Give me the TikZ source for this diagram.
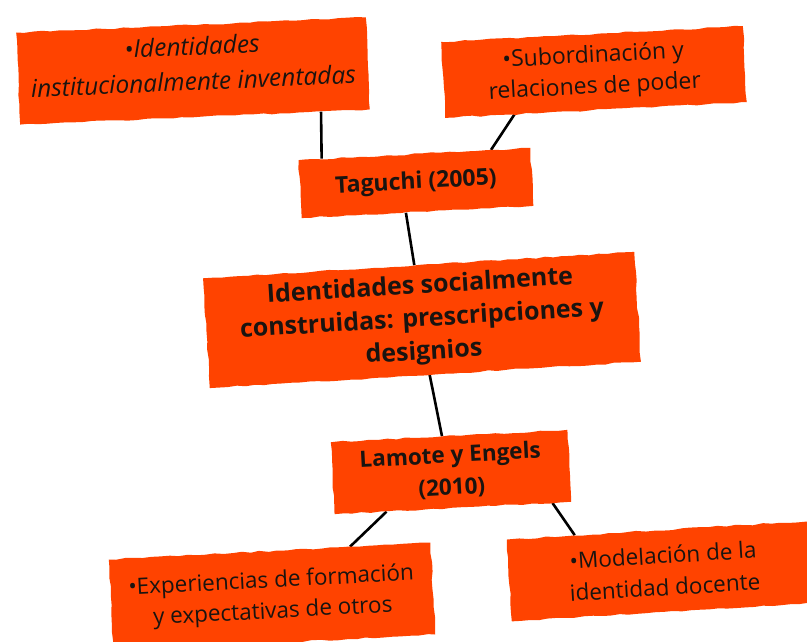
\documentclass[tikz,border=0pt]{standalone}
\usepackage{fontspec}
\setmainfont{Open Sans}
\usetikzlibrary{calc,backgrounds,decorations.pathmorphing}
\definecolor{naranja}{HTML}{FF4300}
\definecolor{tinta}{HTML}{1A1410}
\tikzset{
  bloque/.style={fill=naranja, text=tinta, align=center, inner sep=2pt,
    decorate, decoration={random steps, segment length=9pt, amplitude=0.8pt}},
  enlace/.style={line width=2.6pt, black}
}
\begin{document}
\begin{tikzpicture}[x=1pt, y=-1pt]
                        \clip (0, 0) rectangle (807, 641);
                        \node [bloque, rotate=2.5, minimum width=350pt, minimum height=92pt, font=\fontsize{24.5}{35}\itshape] (inst) at (193, 71) {\textbullet Identidades\\institucionalmente inventadas\\[-20pt]};
                        \node [bloque, rotate=3, minimum width=302pt, minimum height=76pt, font=\fontsize{23}{31}\selectfont] (subor) at (594, 72) {\textbullet Subordinación y\\relaciones de poder};
                        \node [bloque, rotate=3, minimum width=232pt, minimum height=58pt, font=\fontsize{23}{30}\bfseries] (taguchi) at (416, 183) {Taguchi (2005)};
                        \node [bloque, rotate=3.5, minimum width=432pt, minimum height=110pt, font=\fontsize{25}{33}\bfseries] (ident) at (422, 320) {Identidades socialmente\\construidas: prescripciones y\\designios};
                        \node [bloque, rotate=3, minimum width=237pt, minimum height=72pt, font=\fontsize{22.5}{32}\bfseries] (lamote) at (451, 472) {Lamote y Engels\\(2010)};
                        \node [bloque, rotate=3, minimum width=322pt, minimum height=92pt, font=\fontsize{22.5}{31}\selectfont] (exper) at (272, 597) {\textbullet Experiencias de formación\\y expectativas de otros};
                        \node [bloque, rotate=3.5, minimum width=310pt, minimum height=82pt, font=\fontsize{22.5}{32}\selectfont] (model) at (664, 571) {\textbullet Modelación de la\\identidad docente};
                        \begin{scope}[on background layer]
                        \draw [enlace] ($(inst.south west)!0.86!(inst.south east)$) -- ($(taguchi.north west)!0.1!(taguchi.north east)$);
                        \draw [enlace] ($(subor.south west)!0.23!(subor.south east)$) -- ($(taguchi.north west)!0.83!(taguchi.north east)$);
                        \draw [enlace] ($(taguchi.south west)!0.45!(taguchi.south east)$) -- ($(ident.north west)!0.49!(ident.north east)$);
                        \draw [enlace] ($(ident.south west)!0.51!(ident.south east)$) -- ($(lamote.north west)!0.47!(lamote.north east)$);
                        \draw [enlace] ($(lamote.south west)!0.22!(lamote.south east)$) -- ($(exper.north west)!0.75!(exper.north east)$);
                        \draw [enlace] ($(lamote.south west)!0.92!(lamote.south east)$) -- ($(model.north west)!0.22!(model.north east)$);
                        \end{scope}
                    \end{tikzpicture}
\end{document}
